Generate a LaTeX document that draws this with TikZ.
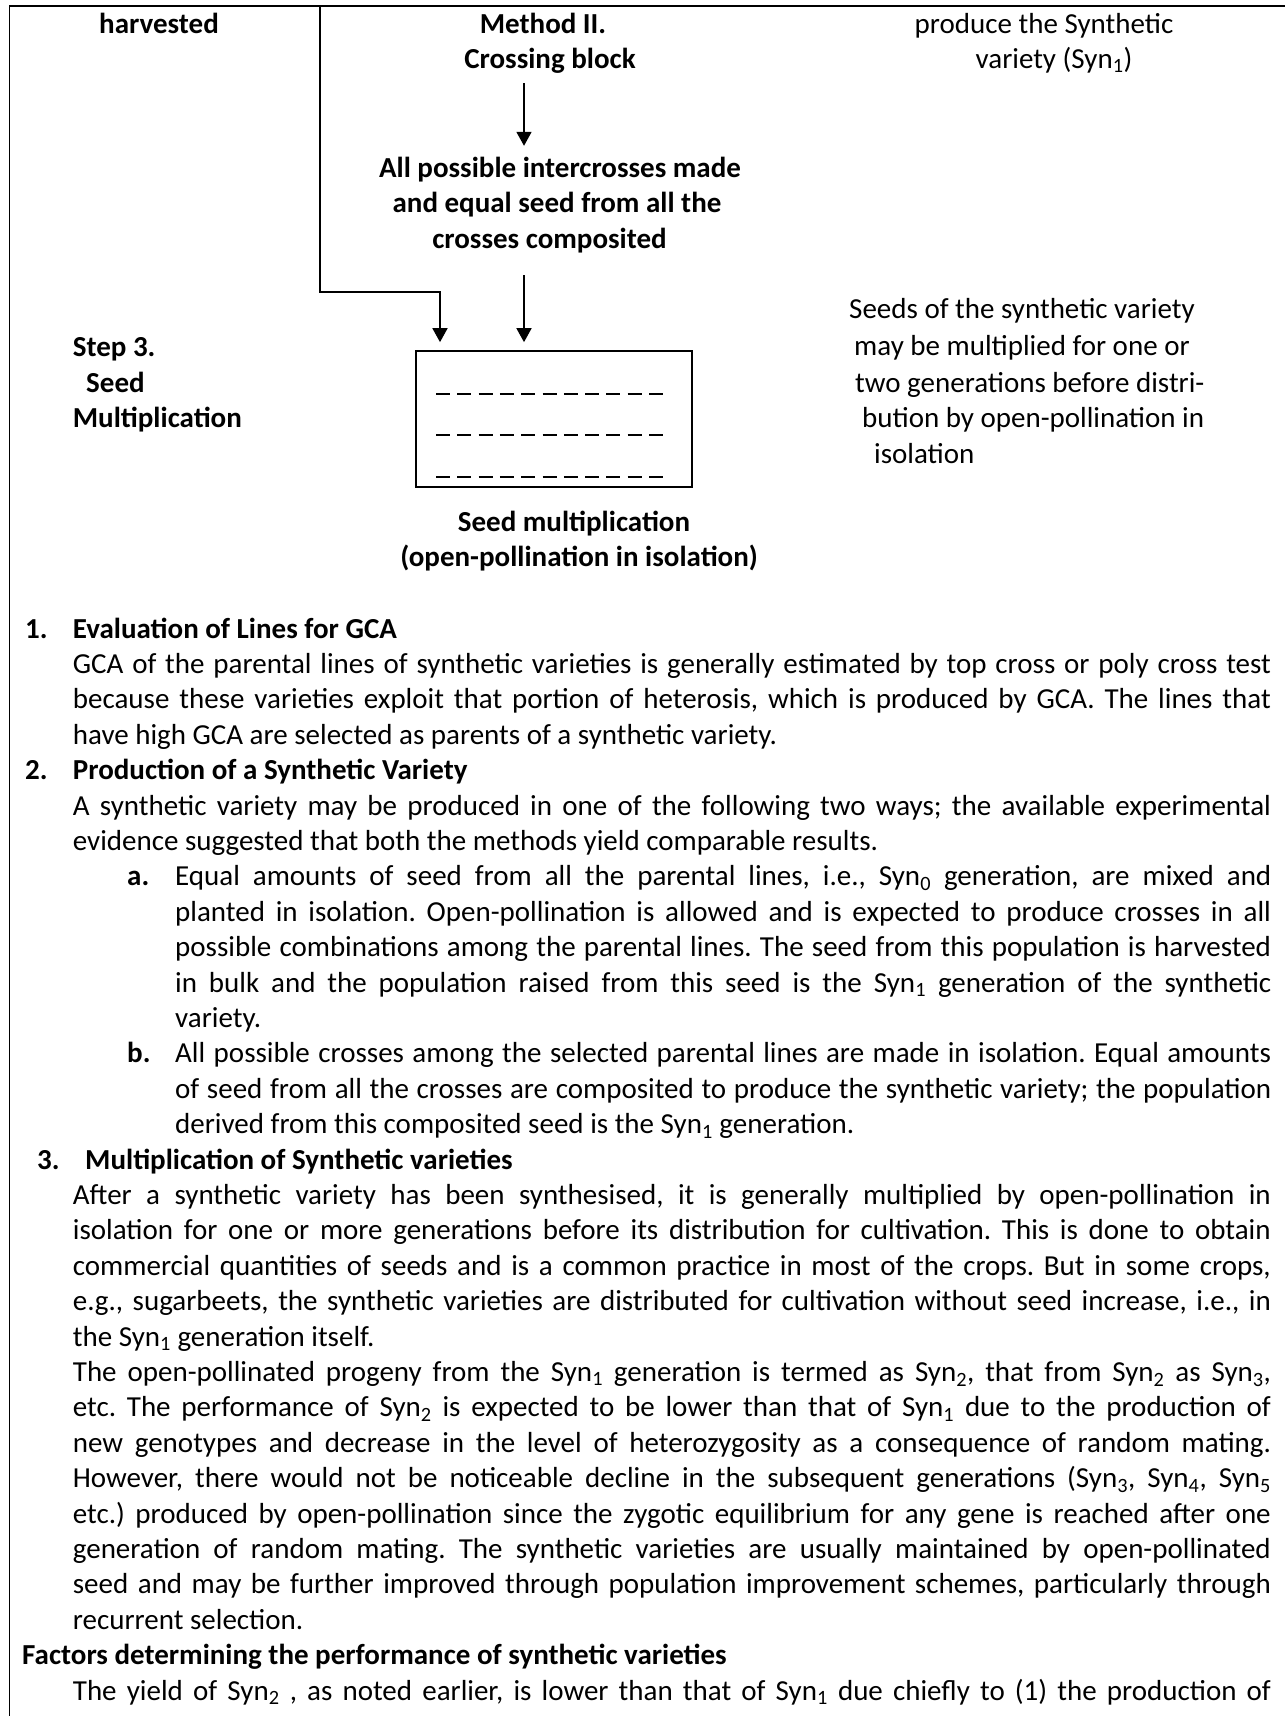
\documentclass[tikz,border=0pt]{standalone}
\usepackage{fontspec}
\setmainfont{Carlito}
\usetikzlibrary{arrows.meta}
\frenchspacing
\newcommand{\bfs}{\fontsize{29}{35.4}\selectfont\frenchspacing}
\newcommand{\sbs}[1]{\textsubscript{#1}}
\newlength{\wfull}\setlength{\wfull}{1198pt}
\newlength{\wsub}\setlength{\wsub}{1096pt}
\newcommand{\jst}[2]{\makebox[#1][s]{#2}}
\begin{document}
\begin{tikzpicture}[x=1pt,y=-1pt,
  txt/.style={inner sep=0pt, font=\bfs, text height=21pt, text depth=7pt},
  lft/.style={txt, anchor=base west},
  ctr/.style={txt, anchor=base},
  bld/.style={font=\bfs\bfseries},
  arr/.style={line width=1.7pt, -{Triangle[length=14pt,width=15pt]}},
  ln/.style={line width=1.7pt},
  dsh/.style={line width=1.5pt, dash pattern=on 14pt off 7.3pt}
  ]
\useasboundingbox (0,0) rectangle (1285,1716);
% frame
\coordinate (fTL) at (9.3,5.7);
\coordinate (fBL) at (9.3,1716);
\coordinate (fTR) at (1285,5.7);
\draw[line width=1.5pt] (fBL) -- (fTL);
\draw[line width=2.2pt] (fTL) -- (fTR);
% top texts
\node[ctr,bld] (harv) at (159,33) {harvested};
\node[ctr,bld] (m2) at (543,33) {Method II.};
\node[ctr,bld] (cb) at (550,68) {Crossing block};
\node[ctr,bld] (ap1) at (560,177) {All possible intercrosses made};
\node[ctr,bld] (ap2) at (557,212) {and equal seed from all the};
\node[ctr,bld] (ap3) at (549.5,248) {crosses composited};
\node[ctr] (pr1) at (1044,33) {produce the Synthetic};
\node[ctr] (pr2) at (1054,68) {variety (Syn\sbs{1})};
\node[lft,bld] (st1) at (72.7,356) {Step 3.};
\node[lft,bld] (st2) at (86,392) {Seed};
\node[lft,bld] (st3) at (72.7,427) {Multiplication};
\node[draw, line width=1.7pt, minimum width=276pt, minimum height=136pt, inner sep=0pt] (box) at (554,419) {};
\foreach \yy in {394,435,477} \draw[dsh] (436,\yy) -- (663,\yy);
\node[ctr,bld] (sm1) at (574,531) {Seed multiplication};
\node[ctr,bld] (sm2) at (579,566) {(open-pollination in isolation)};
\node[lft] (r1) at (849,318) {Seeds of the synthetic variety};
\node[lft] (r2) at (854,355) {may be multiplied for one or};
\node[lft] (r3) at (855,392) {two generations before distri-};
\node[lft] (r4) at (862,427) {bution by open-pollination in};
\node[lft] (r5) at (874,463) {isolation};
% connectors
\coordinate (colA) at (524,0);
\coordinate (colB) at (440,0);
\coordinate (tdTop) at (320,5.7);
\coordinate (tdCorner) at (320,292);
\draw[arr] ([yshift=-8pt]cb.south -| colA) -- ([yshift=10pt]ap1.north -| colA);
\draw[arr] ([yshift=-20pt]ap3.south -| colA) -- ([yshift=8pt]box.north -| colA);
\draw[arr] (tdTop) |- (colB |- tdCorner) -- ([yshift=8pt]box.north -| colB);
% body text
\node[lft,bld] (n1) at (25,{638}) {1.};
\node[lft,bld] (h1) at (72.7,{638}) {Evaluation of Lines for GCA};
\node[lft] (L1) at (72.7,{638+35.4*1}) {\jst{\wfull}{GCA of the parental lines of synthetic varieties is generally estimated by top cross or poly cross test}};
\node[lft] (L2) at (72.7,{638+35.4*2}) {\jst{\wfull}{because these varieties exploit that portion of heterosis, which is produced by GCA. The lines that}};
\node[lft] (L3) at (72.7,{638+35.4*3}) {have high GCA are selected as parents of a synthetic variety.};
\node[lft,bld] (n2) at (25,{638+35.4*4}) {2.};
\node[lft,bld] (h2) at (72.7,{638+35.4*4}) {Production of a Synthetic Variety};
\node[lft] (L5) at (72.7,{638+35.4*5}) {\jst{\wfull}{A synthetic variety may be produced in one of the following two ways; the available experimental}};
\node[lft] (L6) at (72.7,{638+35.4*6}) {evidence suggested that both the methods yield comparable results.};
\node[lft,bld] (na) at (127,{638+35.4*7}) {a.};
\node[lft] (L7) at (175,{638+35.4*7}) {\jst{\wsub}{Equal amounts of seed from all the parental lines, i.e., Syn\sbs{0} generation, are mixed and}};
\node[lft] (L8) at (175,{638+35.4*8}) {\jst{\wsub}{planted in isolation. Open-pollination is allowed and is expected to produce crosses in all}};
\node[lft] (L9) at (175,{638+35.4*9}) {\jst{\wsub}{possible combinations among the parental lines. The seed from this population is harvested}};
\node[lft] (L10) at (175,{638+35.4*10}) {\jst{\wsub}{in bulk and the population raised from this seed is the Syn\sbs{1} generation of the synthetic}};
\node[lft] (L11) at (175,{638+35.4*11}) {variety.};
\node[lft,bld] (nb) at (127,{638+35.4*12}) {b.};
\node[lft] (L12) at (175,{638+35.4*12}) {\jst{\wsub}{All possible crosses among the selected parental lines are made in isolation. Equal amounts}};
\node[lft] (L13) at (175,{638+35.4*13}) {\jst{\wsub}{of seed from all the crosses are composited to produce the synthetic variety; the population}};
\node[lft] (L14) at (175,{638+35.4*14}) {derived from this composited seed is the Syn\sbs{1} generation.};
\node[lft,bld] (n3) at (37,{638+35.4*15}) {3.};
\node[lft,bld] (h3) at (85,{638+35.4*15}) {Multiplication of Synthetic varieties};
\node[lft] (L16) at (72.7,{638+35.4*16}) {\jst{\wfull}{After a synthetic variety has been synthesised, it is generally multiplied by open-pollination in}};
\node[lft] (L17) at (72.7,{638+35.4*17}) {\jst{\wfull}{isolation for one or more generations before its distribution for cultivation. This is done to obtain}};
\node[lft] (L18) at (72.7,{638+35.4*18}) {\jst{\wfull}{commercial quantities of seeds and is a common practice in most of the crops. But in some crops,}};
\node[lft] (L19) at (72.7,{638+35.4*19}) {\jst{\wfull}{e.g., sugarbeets, the synthetic varieties are distributed for cultivation without seed increase, i.e., in}};
\node[lft] (L20) at (72.7,{638+35.4*20}) {the Syn\sbs{1} generation itself.};
\node[lft] (L21) at (72.7,{638+35.4*21}) {\jst{\wfull}{The open-pollinated progeny from the Syn\sbs{1} generation is termed as Syn\sbs{2}, that from Syn\sbs{2} as Syn\sbs{3},}};
\node[lft] (L22) at (72.7,{638+35.4*22}) {\jst{\wfull}{etc. The performance of Syn\sbs{2} is expected to be lower than that of Syn\sbs{1} due to the production of}};
\node[lft] (L23) at (72.7,{638+35.4*23}) {\jst{\wfull}{new genotypes and decrease in the level of heterozygosity as a consequence of random mating.}};
\node[lft] (L24) at (72.7,{638+35.4*24}) {\jst{\wfull}{However, there would not be noticeable decline in the subsequent generations (Syn\sbs{3}, Syn\sbs{4}, Syn\sbs{5}}};
\node[lft] (L25) at (72.7,{638+35.4*25}) {\jst{\wfull}{etc.) produced by open-pollination since the zygotic equilibrium for any gene is reached after one}};
\node[lft] (L26) at (72.7,{638+35.4*26}) {\jst{\wfull}{generation of random mating. The synthetic varieties are usually maintained by open-pollinated}};
\node[lft] (L27) at (72.7,{638+35.4*27}) {\jst{\wfull}{seed and may be further improved through population improvement schemes, particularly through}};
\node[lft] (L28) at (72.7,{638+35.4*28}) {recurrent selection.};
\node[lft,bld] (hF) at (22,{638+35.4*29}) {Factors determining the performance of synthetic varieties};
\node[lft] (L30) at (72.7,{638+35.4*30}) {\jst{\wfull}{The yield of Syn\sbs{2} , as noted earlier, is lower than that of Syn\sbs{1} due chiefly to (1) the production of}};
\end{tikzpicture}
\end{document}
